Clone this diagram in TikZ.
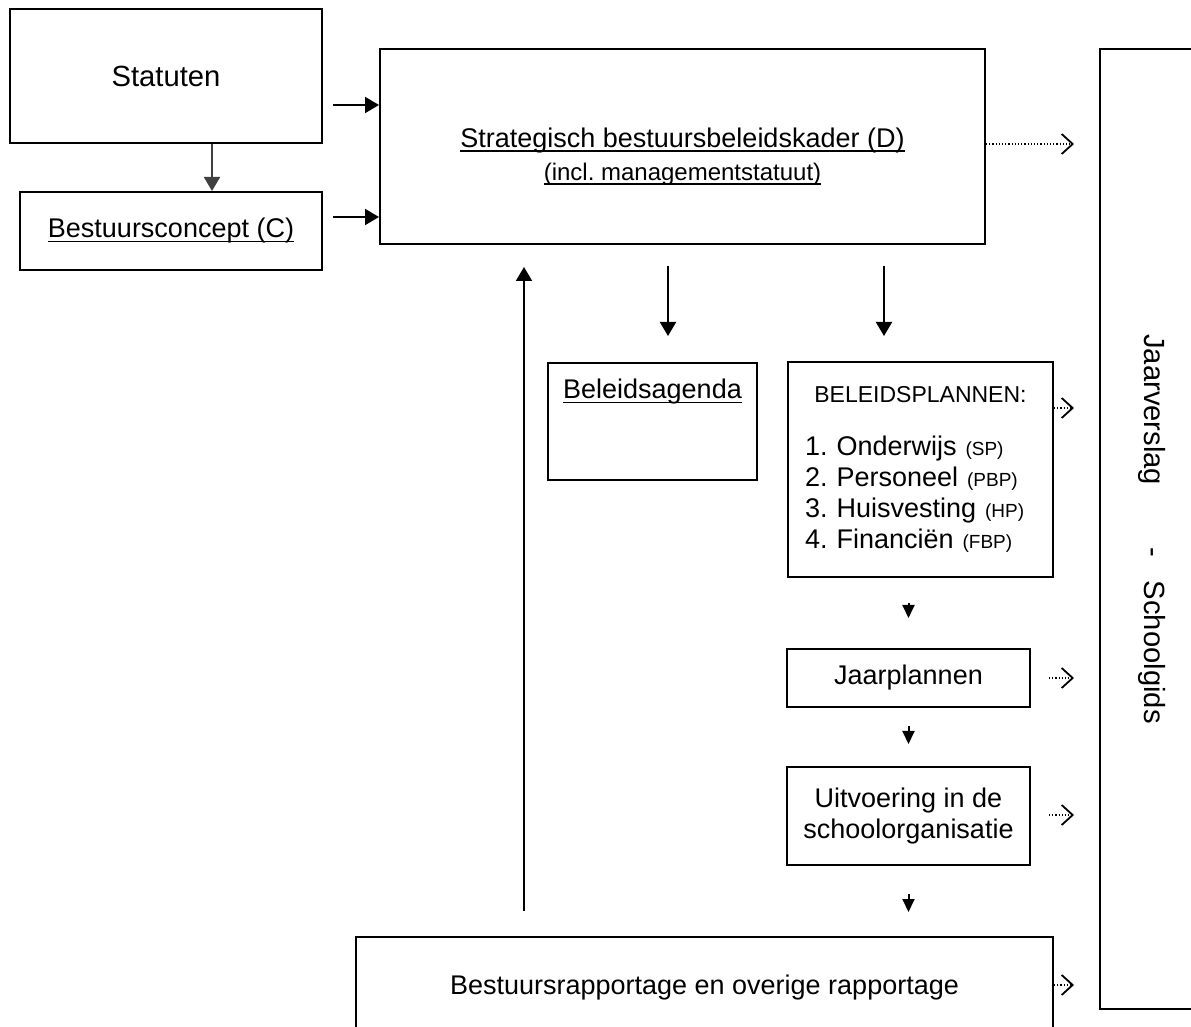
\documentclass[tikz,border=0pt]{standalone}
\usepackage{fontspec}
\setmainfont{Liberation Sans}
\usetikzlibrary{arrows.meta,positioning}

\newcommand{\mainsize}{\fontsize{13.5}{15.5}\selectfont}
\newcommand{\bigsize}{\fontsize{14.6}{17}\selectfont}
\newcommand{\headsize}{\fontsize{11.5}{14}\selectfont}
\newcommand{\notesize}{\fontsize{12}{14}\selectfont}
\newcommand{\abbr}[1]{{\fontsize{9.5}{11}\selectfont #1}}
% underline just below the baseline
\newcommand{\ulined}[1]{\setbox0\hbox{#1}\rlap{\rule[-2.2pt]{\wd0}{0.6pt}}\box0}

\tikzset{
	box/.style={draw,line width=1pt},
	arr/.style={-{Triangle[length=7pt,width=8pt]},line width=1pt},
	smallarr/.style={-{Triangle[length=6.5pt,width=6pt]},line width=1pt},
	dotarr/.style={densely dotted,line width=0.6pt,
		-{Straight Barb[length=5.5pt,width=10pt,line width=0.9pt]}},
}

\begin{document}
\frenchspacing
\begin{tikzpicture}[x=0.5pt,y=-0.5pt,font=\mainsize]
	\useasboundingbox (0,0) rectangle (1191,1027);
	\clip (0,0) rectangle (1191,1027);

	% boxes
	\node[box,minimum width=156pt,minimum height=67pt,font=\bigsize] (stat) at (166,76) {Statuten};
	\node[box,minimum width=151pt,minimum height=39pt] (conc) at (171,231) {\ulined{Bestuursconcept (C)}};
	\node[box,minimum width=302.5pt,minimum height=97.5pt,
		label={[align=center,yshift=-5pt]center:\ulined{Strategisch bestuursbeleidskader (D)}\\[1pt]
		\notesize\ulined{(incl. managementstatuut)}}] (strat) at (682.5,146.5) {};
	\node[box,minimum width=480pt,minimum height=52.5pt,rotate=-90,font=\bigsize] (jaar) at (1152.5,529)
		{Jaarverslag\hspace{31pt}-\hspace{12pt}Schoolgids};
	\node[box,minimum width=104.5pt,minimum height=58.5pt,
		label={[anchor=center,yshift=-15pt]north:\ulined{Beleidsagenda}}] (agenda) at (652.5,421.5) {};
	\node[box,minimum width=132.5pt,minimum height=107.5pt,text width=115.5pt,align=left] (plan) at (920.5,469.5)
		{\makebox[\linewidth]{\headsize BELEIDSPLANNEN:}\\[11pt]
		 1. Onderwijs \abbr{(SP)}\\
		 2. Personeel \abbr{(PBP)}\\
		 3. Huisvesting \abbr{(HP)}\\
		 4. Financiën \abbr{(FBP)}};
	\node[box,minimum width=121.5pt,minimum height=29pt] (jplan) at (908.5,678) {Jaarplannen};
	\node[box,minimum width=121.5pt,minimum height=49pt,align=center] (uitv) at (908.5,816)
		{Uitvoering in de\\schoolorganisatie};
	\node[box,minimum width=348.5pt,minimum height=51pt] (rapp) at (704.5,988)
		{Bestuursrapportage en overige rapportage};

	% helper lines for the connectors
	\coordinate (gx) at (212,0);
	\coordinate (upx) at (524,0);
	\coordinate (dnA) at (668,0);
	\coordinate (dnB) at (884,0);
	\coordinate (ya) at (0,105);
	\coordinate (yb) at (0,217);
	\coordinate (ystrat) at (0,144);
	\coordinate (yplan) at (0,408);
	\coordinate (yuitv) at (0,815);
	\coordinate (yrapp) at (0,985);

	% solid arrows
	\draw[arr,color=black!75] (stat.south -| gx) -- (conc.north -| gx);
	\draw[arr,shorten <=5pt] (stat.east |- ya) -- (strat.west |- ya);
	\draw[arr,shorten <=5pt] (conc.east |- yb) -- (strat.west |- yb);
	\draw[arr,shorten <=12.5pt,shorten >=11pt] (rapp.north -| upx) -- (strat.south -| upx);
	\draw[arr,shorten <=10.5pt,shorten >=13pt] (strat.south -| dnA) -- (agenda.north -| dnA);
	\draw[arr,shorten <=10.5pt,shorten >=12.5pt] (strat.south -| dnB) -- (plan.north -| dnB);
	\draw[smallarr,shorten <=12.5pt,shorten >=15pt] (plan.south -| jplan.north) -- (jplan.north);
	\draw[smallarr,shorten <=9pt,shorten >=11pt] (jplan.south) -- (uitv.north);
	\draw[smallarr,shorten <=14pt,shorten >=12pt] (uitv.south) -- (rapp.north -| uitv.south);

	% dotted arrows to the report
	\draw[dotarr,shorten >=12.5pt] (strat.east |- ystrat) -- (jaar.south |- ystrat);
	\draw[dotarr,shorten >=12.5pt] (plan.east |- yplan) -- (jaar.south |- yplan);
	\draw[dotarr,shorten <=9pt,shorten >=12.5pt] (jplan.east) -- (jplan.east -| jaar.south);
	\draw[dotarr,shorten <=9pt,shorten >=12.5pt] (uitv.east |- yuitv) -- (jaar.south |- yuitv);
	\draw[dotarr,shorten >=12.5pt] (rapp.east |- yrapp) -- (jaar.south |- yrapp);
\end{tikzpicture}
\end{document}
